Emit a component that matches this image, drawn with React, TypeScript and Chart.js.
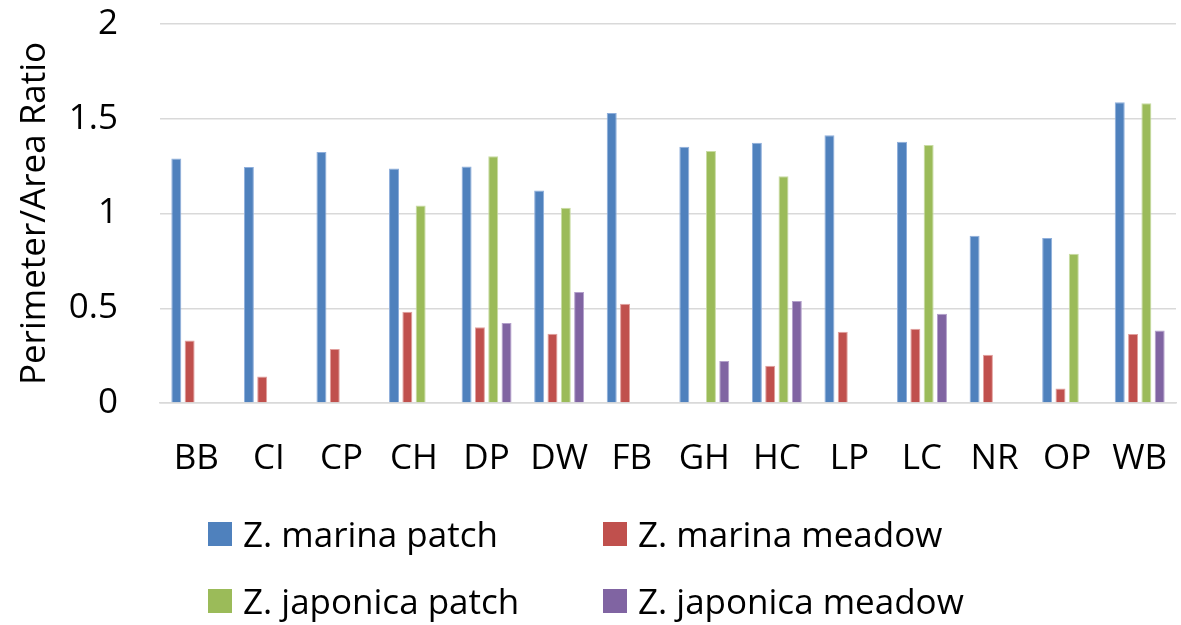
import React, { useEffect, useRef } from "react";
import { Chart, registerables } from "chart.js";

Chart.register(...registerables);

const categories = ["BB", "CI", "CP", "CH", "DP", "DW", "FB", "GH", "HC", "LP", "LC", "NR", "OP", "WB"];
const marinaPatch = [1.29, 1.246, 1.325, 1.237, 1.248, 1.121, 1.531, 1.352, 1.373, 1.413, 1.378, 0.883, 0.871, 1.587];
const marinaMeadow = [0.33, 0.14, 0.285, 0.482, 0.4, 0.366, 0.524, null, 0.197, 0.376, 0.392, 0.255, 0.077, 0.364];
const japonicaPatch = [null, null, null, 1.042, 1.302, 1.031, null, 1.33, 1.196, null, 1.362, null, 0.788, 1.582];
const japonicaMeadow = [null, null, null, null, 0.422, 0.586, null, 0.222, 0.538, null, 0.471, null, null, 0.382];
const seriesNames = ["Z. marina patch", "Z. marina meadow", "Z. japonica patch", "Z. japonica meadow"];
const seriesColors = ["#4F81BD", "#C0504D", "#9BBB59", "#8064A2"];
const seriesBorders = ["#8EAEDB", "#E2A09E", "#C9DCA3", "#B3A0CB"];
const yTitle = "Perimeter/Area Ratio";

const FONT = "'Open Sans', sans-serif";
const FS = 35;

export default function App() {
  const canvasRef = useRef<HTMLCanvasElement | null>(null);

  useEffect(() => {
    document.body.style.margin = "0";
    const values = [marinaPatch, marinaMeadow, japonicaPatch, japonicaMeadow];
    const chart = new Chart(canvasRef.current as HTMLCanvasElement, {
      type: "bar",
      data: {
        labels: categories,
        datasets: values.map((v, i) => ({
          label: seriesNames[i],
          data: v,
          backgroundColor: seriesColors[i],
          borderColor: seriesBorders[i],
          borderWidth: 1,
          categoryPercentage: 0.734,
          barPercentage: 0.75,
        })),
      },
      options: {
        responsive: false,
        animation: false,
        layout: { padding: { top: 24, right: 5, left: 0, bottom: 0 } },
        plugins: { legend: { display: false }, tooltip: { enabled: false } },
        scales: {
          x: {
            grid: { display: false, drawTicks: false },
            border: { display: true, color: "#D9D9D9", width: 1.5 },
            ticks: { color: "#000", font: { family: FONT, size: FS }, padding: 35, maxRotation: 0, autoSkip: false },
            afterFit: (s: any) => { s.height = 625 - 403; s.paddingLeft = 0; s.paddingRight = 0; },
          },
          y: {
            min: 0,
            max: 2,
            grid: { color: "#D9D9D9", lineWidth: 1.5, drawTicks: false },
            border: { display: false },
            ticks: {
              stepSize: 0.5,
              color: "#000",
              font: { family: FONT, size: FS },
              padding: 42,
              callback: (v: any) => String(v),
            },
            title: {
              display: true,
              text: yTitle,
              color: "#000",
              font: { family: FONT, size: FS },
              padding: { top: 14, bottom: 0 },
            },
            afterFit: (s: any) => { s.width = 160; s.paddingTop = 0; s.paddingBottom = 0; },
          },
        },
      },
    });
    return () => chart.destroy();
  }, []);

  const legendItem = (i: number, left: number, top: number) => (
    <div key={i} style={{ position: "absolute", left, top, height: 24, display: "flex", alignItems: "center" }}>
      <div style={{ width: 24, height: 24, background: seriesColors[i] }} />
      <span style={{ marginLeft: 11, fontFamily: FONT, fontSize: FS, color: "#000", whiteSpace: "nowrap", lineHeight: "24px" }}>
        {seriesNames[i]}
      </span>
    </div>
  );

  return (
    <div style={{ position: "relative", width: 1181, height: 625, background: "#fff" }}>
      <canvas ref={canvasRef} width={1181} height={625} style={{ position: "absolute", left: 0, top: 0 }} />
      {legendItem(0, 208, 522)}
      {legendItem(1, 603, 522)}
      {legendItem(2, 208, 589)}
      {legendItem(3, 603, 589)}
    </div>
  );
}
